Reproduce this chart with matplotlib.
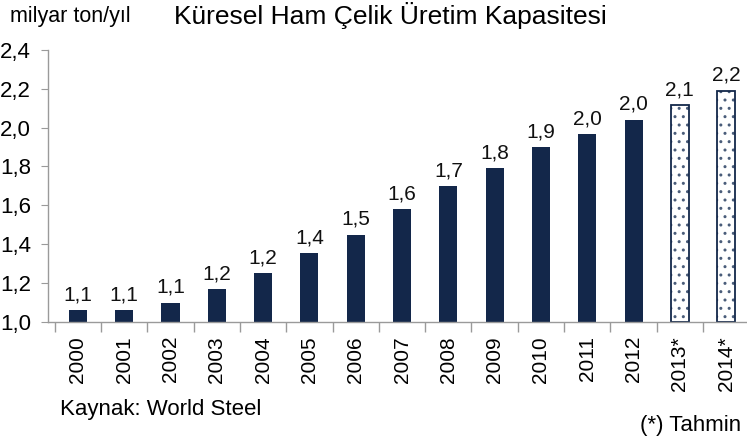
import numpy as np
import matplotlib.pyplot as plt

plt.rcParams['font.family'] = ['Liberation Sans', 'DejaVu Sans']
plt.rcParams['hatch.linewidth'] = 1.0

# veriler: kuresel ham celik uretim kapasitesi (milyar ton/yil)
years = ['2000', '2001', '2002', '2003', '2004', '2005', '2006', '2007',
         '2008', '2009', '2010', '2011', '2012', '2013*', '2014*']
capacity = [1.06, 1.06, 1.10, 1.17, 1.25, 1.355, 1.45, 1.58,
            1.70, 1.79, 1.90, 1.965, 2.04, 2.115, 2.19]
labels = ['1,1', '1,1', '1,1', '1,2', '1,2', '1,4', '1,5', '1,6',
          '1,7', '1,8', '1,9', '2,0', '2,0', '2,1', '2,2']
estimate = [False] * 13 + [True, True]

yticks = [1.0, 1.2, 1.4, 1.6, 1.8, 2.0, 2.2, 2.4]
ytick_labels = ['1,0', '1,2', '1,4', '1,6', '1,8', '2,0', '2,2', '2,4']

navy = '#13274a'
gray = '#9a9a9a'

fig = plt.figure(figsize=(7.47, 4.37), dpi=100)
ax = fig.add_axes([0.064, 0.263, 0.936, 0.623])

x = np.arange(len(years))
base = 1.0
for i in x:
    h = capacity[i] - base
    if estimate[i]:
        ax.bar(i, h, bottom=base, width=0.39, color='white', edgecolor='#4a5d7a',
               hatch='..', linewidth=0)
        ax.bar(i, h, bottom=base, width=0.39, color='none', edgecolor=navy,
               linewidth=1.3)
    else:
        ax.bar(i, h, bottom=base, width=0.39, color=navy)
    ax.text(i, capacity[i] + 0.03, labels[i], ha='center', va='bottom',
            fontsize=15, color='#111111')

ax.set_xlim(-0.65, 14.45)
ax.set_ylim(1.0, 2.4)
ax.set_yticks(yticks)
ax.set_yticklabels(ytick_labels, fontsize=16)
ax.set_xticks(x)
ax.set_xticklabels(years, rotation=90, fontsize=15)
ax.tick_params(axis='x', length=0, pad=10)
ax.tick_params(axis='y', length=5, color=gray, pad=7)
# tick marks between categories
ax.set_xticks(np.arange(-0.5, 14.5, 1.0), minor=True)
ax.tick_params(axis='x', which='minor', length=7, color=gray, width=1)

for side in ['top', 'right']:
    ax.spines[side].set_visible(False)
ax.spines['left'].set_color(gray)
ax.spines['bottom'].set_color(gray)
ax.spines['left'].set_linewidth(1)
ax.spines['bottom'].set_linewidth(1)

fig.text(0.013, 0.962, 'milyar ton/yıl', fontsize=15.5, ha='left', va='center')
fig.text(0.522, 0.965, 'Küresel Ham Çelik Üretim Kapasitesi', fontsize=19,
         ha='center', va='center')
fig.text(0.08, 0.062, 'Kaynak: World Steel', fontsize=16, ha='left', va='center')
fig.text(0.857, 0.027, '(*) Tahmin', fontsize=16, ha='left', va='center')

fig.savefig('out.png', dpi=100)
